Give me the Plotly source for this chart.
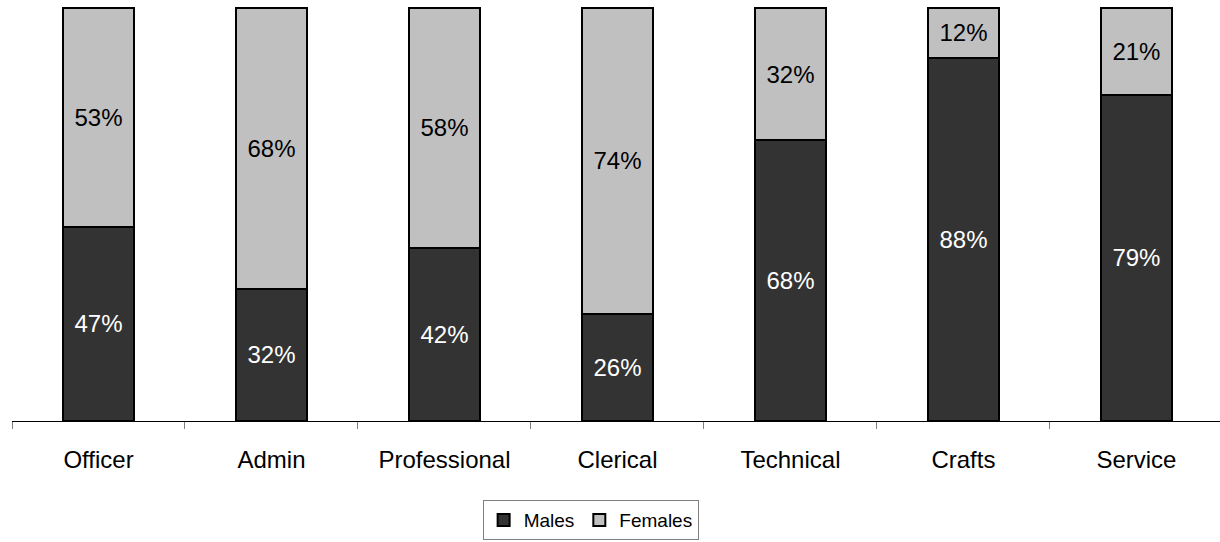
import plotly.graph_objects as go

categories = ["Officer", "Admin", "Professional", "Clerical", "Technical", "Crafts", "Service"]
males = [47, 32, 42, 26, 68, 88, 79]
females = [53, 68, 58, 74, 32, 12, 21]

FONT = "Liberation Sans, Arial"

fig = go.Figure()
fig.add_trace(go.Bar(
    x=categories, y=males, name="Males",
    marker=dict(color="#333333", line=dict(color="black", width=2)),
    text=[f"{v}%" for v in males], textposition="inside", insidetextanchor="middle",
    textfont=dict(color="white", size=24, family=FONT),
    width=0.41,
))
fig.add_trace(go.Bar(
    x=categories, y=females, name="Females",
    marker=dict(color="#C0C0C0", line=dict(color="black", width=2)),
    text=[f"{v}%" for v in females], textposition="inside", insidetextanchor="middle",
    textfont=dict(color="black", size=24, family=FONT),
    width=0.41,
))

fig.update_layout(
    barmode="stack",
    width=1220, height=542,
    margin=dict(l=12, r=0, t=6, b=121),
    paper_bgcolor="white", plot_bgcolor="white",
    font=dict(family=FONT, color="black"),
    uniformtext=dict(minsize=24, mode="show"),
    showlegend=True,
    legend=dict(
        orientation="h", x=0.479, xanchor="center", y=-0.287, yanchor="bottom",
        bordercolor="#808080", borderwidth=1, font=dict(size=19),
        itemwidth=30, traceorder="normal",
    ),
    xaxis=dict(
        range=[-0.5, 6.483], showline=True, linecolor="black", linewidth=1,
        ticks="outside", tickson="boundaries", ticklen=7, tickcolor="#808080",
        tickfont=dict(size=24), showgrid=False, ticklabelstandoff=17,
    ),
    yaxis=dict(range=[0, 100.5], visible=False, showgrid=False),
)

fig.write_html("out.html")
